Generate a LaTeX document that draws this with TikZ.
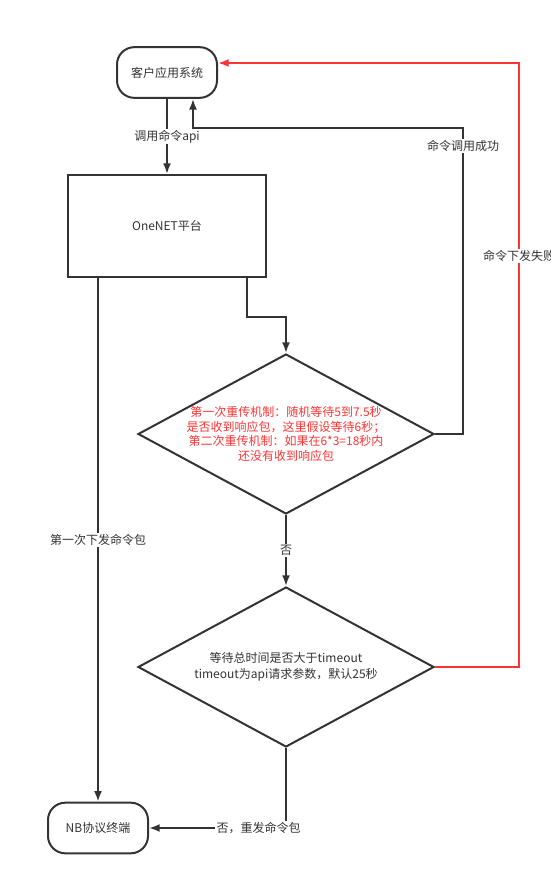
\documentclass[tikz,border=0pt]{standalone}
\usepackage{fontspec}
\setmainfont{Noto Sans CJK SC}
\usetikzlibrary{positioning,calc}
\usetikzlibrary{shapes.geometric}
\usetikzlibrary{arrows.meta}
\definecolor{linegray}{HTML}{333333}
\definecolor{failred}{HTML}{FF3333}
\tikzset{
	terminal/.style={draw=linegray,line width=1.5pt,rounded corners=13pt,minimum width=75pt,minimum height=38pt,anchor=center,rectangle,fill=white,text=linegray},
	platform/.style={draw=linegray,line width=1.5pt,minimum width=148.5pt,minimum height=76.5pt,anchor=center,rectangle,fill=white,text=linegray},
	decision/.style={draw=linegray,line width=1.5pt,diamond,minimum width=222pt,minimum height=120pt,inner sep=0pt,anchor=center},
	note/.style={align=center,font=\fontsize{9}{11}\selectfont},
	tag/.style={fill=white,text=linegray,inner sep=1pt,font=\fontsize{9}{11}\selectfont},
	line/.style={
		draw=linegray,line width=1.5pt,-{Latex[length=8pt,width=6pt]},
	},
	failline/.style={
		draw=failred,line width=1.5pt,-{Latex[length=8pt,width=6pt]},
	},
}

\begin{document}
\begin{tikzpicture}[x=0.75pt,y=-0.75pt,font=\fontsize{9}{11}\selectfont]
	\useasboundingbox (0,0) rectangle (550,885);
	
	% Terminals and platform
	\node[terminal] (client) at (167,72.5) {客户应用系统};
	\node[platform] (onenet) at (167,226) {OneNET平台};
	\node[terminal] (nb) at (98,828) {NB协议终端};
	
	% Decisions
	\node[decision] (retry) at (286,434) {};
	\node[note,text=failred] (retrytxt) at (retry) {第一次重传机制：随机等待5到7.5秒\\是否收到响应包，这里假设等待6秒；\\第二次重传机制：如果在6*3=18秒内\\还没有收到响应包};
	\node[decision] (timeout) at (286,667) {};
	\node[note,text=linegray,font=\fontsize{9}{12}\selectfont] (timeouttxt) at (timeout) {等待总时间是否大于timeout\\timeout为api请求参数，默认25秒};
	
	% Draw connections
	\draw[line] (client) -- node[tag] {调用命令api} (onenet);
	\draw[line] ($(onenet.south)+(80,0)$) -- ++(0,39) -| (retry.north);
	\draw[line] (retry.east) -| node[tag,pos=0.97] {命令调用成功} (463,128) -| ($(client.south)+(26,0)$);
	\draw[failline] (timeout.east) -| node[tag,pos=0.84] {命令下发失败} (519,63) -- ($(client.east)+(0,-9.5)$);
	\draw[line] (nb.north |- onenet.south) -- node[tag] {第一次下发命令包} (nb.north);
	\draw[line] (retry.south) -- node[tag] {否} (timeout.north);
	\draw[line] (timeout.south) |- node[tag,pos=0.6] {否，重发命令包} (nb.east);
\end{tikzpicture}
\end{document}
